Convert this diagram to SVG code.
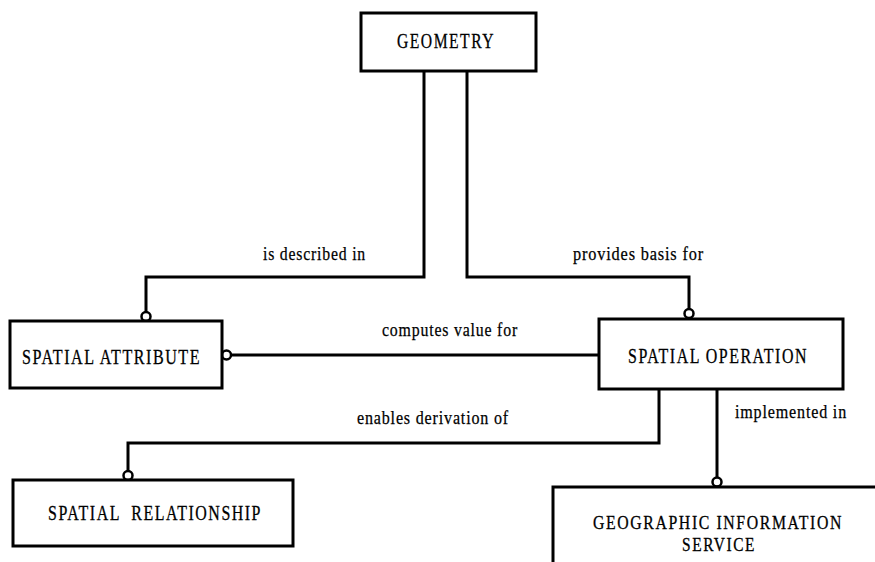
<svg xmlns="http://www.w3.org/2000/svg" width="875" height="562" viewBox="0 0 875 562">
  <style>
    .box { fill: #fff; stroke: #000; stroke-width: 3; }
    .name { font-family: "Liberation Serif", "Times New Roman", serif; font-size: 21px; letter-spacing: 2px; fill: #000; stroke: #000; stroke-width: 0.3; }
    .small { font-size: 19.5px; }
    .rel { font-family: "Liberation Serif", "Times New Roman", serif; font-size: 19.5px; letter-spacing: 1px; fill: #000; stroke: #000; stroke-width: 0.25; }
    .wire { fill: none; stroke: #000; stroke-width: 3; }
    .end { fill: #fff; stroke: #000; stroke-width: 2.5; }
  </style>
  <rect width="875" height="562" fill="#fff"/>

  <g id="connectors">
    <path class="wire" d="M424 71 V277 H146 V312"/>
    <path class="wire" d="M467 71 V277 H689 V309"/>
    <path class="wire" d="M599 355 H231"/>
    <path class="wire" d="M659 389 V443 H128 V471"/>
    <path class="wire" d="M717 389 V477"/>
    <circle class="end" cx="146" cy="316.5" r="4.5"/>
    <circle class="end" cx="689" cy="313.5" r="4.5"/>
    <circle class="end" cx="226.5" cy="355" r="4.5"/>
    <circle class="end" cx="128" cy="475.5" r="4.5"/>
    <circle class="end" cx="717" cy="482" r="4.5"/>
    <text class="rel" x="263" y="260" textLength="103" lengthAdjust="spacingAndGlyphs">is described in</text>
    <text class="rel" x="573" y="260" textLength="131" lengthAdjust="spacingAndGlyphs">provides basis for</text>
    <text class="rel" x="382" y="336" textLength="136" lengthAdjust="spacingAndGlyphs">computes value for</text>
    <text class="rel" x="357" y="424" textLength="152" lengthAdjust="spacingAndGlyphs">enables derivation of</text>
    <text class="rel" x="735" y="418" textLength="112" lengthAdjust="spacingAndGlyphs">implemented in</text>
  </g>

  <g id="geometry">
    <rect class="box" x="361" y="13" width="175" height="58"/>
    <text class="name" x="397" y="48" textLength="98" lengthAdjust="spacingAndGlyphs">GEOMETRY</text>
  </g>

  <g id="spatial-attribute">
    <rect class="box" x="10" y="321" width="212" height="67"/>
    <text class="name" x="22" y="364" textLength="179" lengthAdjust="spacingAndGlyphs">SPATIAL ATTRIBUTE</text>
  </g>

  <g id="spatial-operation">
    <rect class="box" x="599" y="319" width="244" height="70"/>
    <text class="name" x="628" y="363" textLength="180" lengthAdjust="spacingAndGlyphs">SPATIAL OPERATION</text>
  </g>

  <g id="spatial-relationship">
    <rect class="box" x="13" y="480" width="280" height="66"/>
    <text class="name" x="48" y="520" textLength="214" lengthAdjust="spacingAndGlyphs" xml:space="preserve">SPATIAL  RELATIONSHIP</text>
  </g>

  <g id="geographic-information-service">
    <rect class="box" x="553" y="487" width="340" height="100"/>
    <text class="name small" x="593" y="529" textLength="250" lengthAdjust="spacingAndGlyphs">GEOGRAPHIC INFORMATION</text>
    <text class="name small" x="682" y="551" textLength="74" lengthAdjust="spacingAndGlyphs">SERVICE</text>
  </g>
</svg>
